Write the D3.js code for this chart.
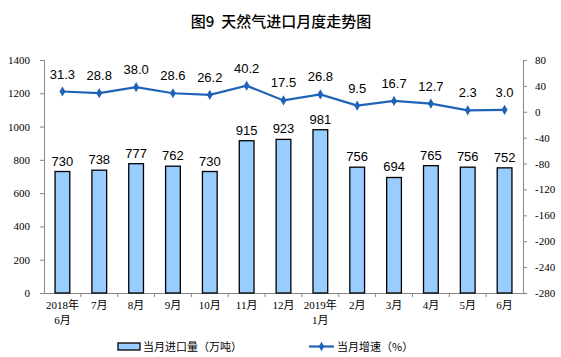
<!DOCTYPE html>
<html><head><meta charset="utf-8">
<script src="https://cdn.jsdelivr.net/npm/d3@7"></script>
<style>body{margin:0;background:#fff}svg{display:block}</style>
</head><body>
<script>
const categories = ["2018年\n6月","7月","8月","9月","10月","11月","12月","2019年\n1月","2月","3月","4月","5月","6月"];
const imports = [730,738,777,762,730,915,923,981,756,694,765,756,752];
const growth = [31.3,28.8,38.0,28.6,26.2,40.2,17.5,26.8,9.5,16.7,12.7,2.3,3.0];
const leftTicks = [0,200,400,600,800,1000,1200,1400];
const rightTicks = [80,40,0,-40,-80,-120,-160,-200,-240,-280];
const title = "图9\u00a0\u00a0天然气进口月度走势图";
const legendBar = "当月进口量（万吨）";
const legendLine = "当月增速（%）";

const W=561,H=357;
const svg=d3.select("body").append("svg").attr("width",W).attr("height",H);
const x0=44,x1=523,yT=60,yB=293;
const x=d3.scaleBand().domain(categories).range([x0,x1]).paddingInner(0.6).paddingOuter(0.3);
const xb=d3.scaleBand().domain(categories).range([x0,x1]);
const yL=d3.scaleLinear().domain([0,1400]).range([yB,yT]);
const yR=d3.scaleLinear().domain([-280,80]).range([yB,yT]);

svg.append("text").attr("x",281).attr("y",27).attr("text-anchor","middle")
 .attr("font-family","Noto Sans CJK SC").attr("font-size",15).attr("font-weight",500).text(title);

const axisCol="#868686";
const fmt=d=>String(d);
const gl=svg.append("g").attr("transform",`translate(${x0},0)`).call(d3.axisLeft(yL).tickValues(leftTicks).tickFormat(fmt).tickSize(4).tickPadding(10));
const gr=svg.append("g").attr("transform",`translate(${x1},0)`).call(d3.axisRight(yR).tickValues(rightTicks).tickFormat(fmt).tickSize(4).tickPadding(8));
const gb=svg.append("g").attr("transform",`translate(0,${yB})`).call(d3.axisBottom(xb).tickSize(0).tickFormat(""));
[gl,gr,gb].forEach(g=>{
  g.selectAll("path,line").attr("stroke",axisCol);
  g.selectAll("text").attr("font-family","Liberation Serif").attr("font-size",11).attr("fill","#000");
});
svg.append("g").selectAll("line").data(categories.slice(1)).join("line")
 .attr("x1",d=>xb(d)).attr("x2",d=>xb(d)).attr("y1",yB).attr("y2",yB+4).attr("stroke",axisCol);

const xl=svg.append("g");
categories.forEach(c=>{
  const t=xl.append("text").attr("text-anchor","middle").attr("font-family","Liberation Serif, Noto Sans CJK SC").attr("font-size",11);
  c.split("\n").forEach((s,i)=>t.append("tspan").attr("x",xb(c)+xb.bandwidth()/2).attr("y",yB+16+i*15).text(s));
});

svg.append("g").selectAll("rect").data(imports).join("rect")
 .attr("x",(d,i)=>x(categories[i])).attr("width",x.bandwidth())
 .attr("y",d=>yL(d)).attr("height",d=>yB-yL(d))
 .attr("fill","#99CCFF").attr("stroke","#000").attr("stroke-width",1.3);
svg.append("g").selectAll("text").data(imports).join("text")
 .attr("x",(d,i)=>xb(categories[i])+xb.bandwidth()/2).attr("y",d=>yL(d)-6)
 .attr("text-anchor","middle").attr("font-family","Liberation Sans").attr("font-size",13).text(d=>d);

const cx=i=>xb(categories[i])+xb.bandwidth()/2;
const lineCol="#1F63B8";
svg.append("path").datum(growth).attr("fill","none").attr("stroke",lineCol).attr("stroke-width",2.2)
 .attr("d",d3.line().x((d,i)=>cx(i)).y(d=>yR(d)));
svg.append("g").selectAll("path").data(growth).join("path")
 .attr("transform",(d,i)=>`translate(${cx(i)},${yR(d)})`)
 .attr("d",d3.symbol(d3.symbolDiamond,30)).attr("fill",lineCol);
svg.append("g").selectAll("text").data(growth).join("text")
 .attr("x",(d,i)=>cx(i)).attr("y",d=>yR(d)-13)
 .attr("text-anchor","middle").attr("font-family","Liberation Sans").attr("font-size",13).text(d=>d.toFixed(1));

const lg=svg.append("g");
lg.append("rect").attr("x",118).attr("y",343).attr("width",22).attr("height",7).attr("fill","#99CCFF").attr("stroke","#000").attr("stroke-width",1.3);
lg.append("text").attr("x",143).attr("y",351).attr("font-family","Noto Sans CJK SC").attr("font-size",11).text(legendBar);
lg.append("line").attr("x1",309).attr("x2",334).attr("y1",346.5).attr("y2",346.5).attr("stroke",lineCol).attr("stroke-width",2.2);
lg.append("path").attr("transform","translate(321.5,346.5)").attr("d",d3.symbol(d3.symbolDiamond,25)).attr("fill",lineCol);
lg.append("text").attr("x",337).attr("y",351).attr("font-family","Noto Sans CJK SC").attr("font-size",11).text(legendLine);
</script>
</body></html>
